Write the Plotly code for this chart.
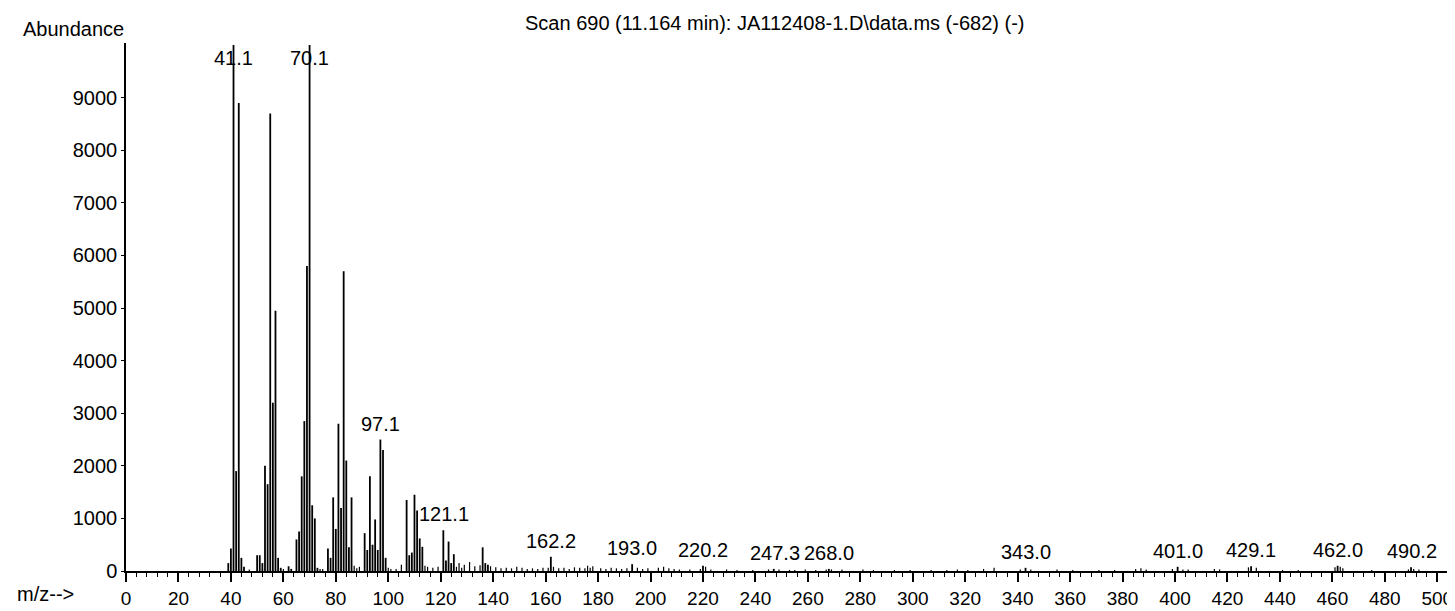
import plotly.graph_objects as go

# ---------------- data ----------------
mz_major = [39, 40, 41, 42, 43, 44, 45,
            50, 51, 52, 53, 54, 55, 56, 57, 58, 59,
            62, 63, 65, 66, 67, 68, 69, 70, 71, 72, 73,
            77, 78, 79, 80, 81, 82, 83, 84, 85, 86,
            91, 92, 93, 94, 95, 96, 97, 98, 99,
            107, 108, 109, 110, 111, 112, 113,
            121, 122, 123, 124, 125,
            136, 137, 138,
            162, 193, 220, 247, 268, 343, 401, 429, 462, 490]
abund_major = [150, 430, 10000, 1900, 8900, 250, 80,
               300, 300, 150, 2000, 1650, 8700, 3200, 4950, 250, 60,
               90, 40, 600, 750, 1800, 2850, 5800, 10000, 1250, 1000, 60,
               430, 250, 1400, 800, 2800, 1200, 5700, 2100, 450, 1400,
               720, 400, 1800, 500, 980, 400, 2500, 2300, 250,
               1350, 300, 350, 1450, 1150, 620, 460,
               775, 200, 560, 150, 320,
               450, 150, 120,
               270, 130, 100, 40, 40, 60, 80, 90, 100, 70]

mz_minor = [47, 60, 74, 75, 87, 88, 89, 100, 101, 103, 105, 114, 115, 117, 119,
            126, 127, 128, 129, 131, 133, 135, 139, 141, 143, 145, 147, 149, 151,
            153, 155, 157, 159, 161, 163, 165, 167, 169, 171, 173, 175, 176, 177,
            178, 181, 183, 185, 187, 189, 191, 195, 197, 199, 203, 205, 207, 209,
            211, 215, 219, 221, 223, 229, 233, 239, 245, 249, 253, 255, 259, 263,
            267, 269, 273, 281, 285, 293, 299, 307, 313, 317, 321, 327, 331, 341,
            345, 355, 361, 371, 377, 385, 387, 389, 399, 403, 405, 415, 417, 428,
            431, 441, 447, 461, 463, 464, 475, 489, 491, 493]
abund_minor = [30, 40, 40, 40, 100, 50, 80, 60, 40, 40, 120, 100, 80, 60, 80,
               80, 150, 60, 120, 170, 90, 110, 90, 70, 50, 60, 50, 80, 60,
               40, 50, 40, 60, 60, 80, 50, 60, 40, 70, 60, 50, 100, 60,
               90, 50, 40, 60, 50, 40, 50, 60, 40, 50, 60, 80, 50, 40,
               30, 30, 40, 80, 30, 30, 20, 20, 30, 30, 20, 20, 30, 20,
               30, 30, 30, 30, 20, 20, 20, 20, 20, 30, 20, 40, 60, 30,
               30, 30, 20, 20, 20, 40, 50, 30, 40, 30, 30, 40, 30, 70,
               60, 20, 20, 70, 80, 50, 20, 30, 40, 30]

label_text = ["41.1", "70.1", "97.1", "121.1", "162.2", "193.0", "220.2",
              "247.3", "268.0", "343.0", "401.0", "429.1", "462.0", "490.2"]
label_mz = [41.1, 70.1, 97.1, 121.1, 162.2, 193.0, 220.2,
            247.3, 268.0, 343.0, 401.0, 429.1, 462.0, 490.2]

x_ticks = list(range(0, 501, 20))
y_ticks = list(range(0, 9001, 1000))

title_text = "Scan 690 (11.164 min): JA112408-1.D\\data.ms (-682) (-)"

# ---------------- figure ----------------
FONT = "Liberation Sans, Arial, sans-serif"
Y_TOP = 10040

def sticks(mzs, vals):
    xs, ys = [], []
    for m, v in zip(mzs, vals):
        xs += [m, m, None]
        ys += [0, v, None]
    return xs, ys

fig = go.Figure()
xs, ys = sticks(mz_minor, abund_minor)
fig.add_trace(go.Scatter(x=xs, y=ys, mode="lines",
                         line=dict(color="black", width=1.2),
                         hoverinfo="skip", showlegend=False))
xs, ys = sticks(mz_major, abund_major)
fig.add_trace(go.Scatter(x=xs, y=ys, mode="lines",
                         line=dict(color="black", width=1.8),
                         hoverinfo="skip", showlegend=False))

lookup = dict(zip(mz_major, abund_major))
for t, m in zip(label_text, label_mz):
    h = lookup.get(int(round(m)), 0)
    if h > Y_TOP - 600:
        fig.add_annotation(x=m, y=Y_TOP, text=t, showarrow=False,
                           xanchor="center", yanchor="top", yshift=-2,
                           font=dict(family=FONT, size=20, color="black"))
    else:
        fig.add_annotation(x=m, y=h, text=t, showarrow=False,
                           xanchor="center", yanchor="bottom", yshift=3,
                           font=dict(family=FONT, size=20, color="black"))

fig.add_annotation(xref="paper", yref="paper", x=0.489, y=1.037,
                   text=title_text, showarrow=False, xanchor="center",
                   yanchor="middle",
                   font=dict(family=FONT, size=20, color="black"))
fig.add_annotation(xref="paper", yref="paper", x=0.0, y=1.026,
                   text="Abundance", showarrow=False, xanchor="right",
                   yanchor="middle",
                   font=dict(family=FONT, size=20, color="black"))
fig.add_annotation(xref="paper", yref="paper", x=-0.0836, y=-0.043,
                   text="m/z-->", showarrow=False, xanchor="left",
                   yanchor="middle",
                   font=dict(family=FONT, size=20, color="black"))

fig.update_layout(
    width=1455, height=611,
    margin=dict(l=118, r=10, t=35, b=36),
    paper_bgcolor="white", plot_bgcolor="white",
    font=dict(family=FONT, size=19, color="black"),
    xaxis=dict(range=[0, 506], tickvals=x_ticks, ticks="outside",
               ticklen=9, tickwidth=1.5, tickcolor="black",
               showline=True, linecolor="black", linewidth=1.5,
               showgrid=False, zeroline=False,
               tickfont=dict(family=FONT, size=19, color="black"),
               minor=dict(dtick=4, tick0=0, ticks="outside", ticklen=4,
                          tickwidth=1.2, tickcolor="black", showgrid=False)),
    yaxis=dict(range=[0, Y_TOP], tickvals=y_ticks, ticks="outside",
               ticklen=3, tickwidth=1.2, tickcolor="black",
               showline=True, linecolor="black", linewidth=1.5,
               showgrid=False, zeroline=False,
               tickfont=dict(family=FONT, size=20, color="black")),
)

fig.write_html("out.html")
